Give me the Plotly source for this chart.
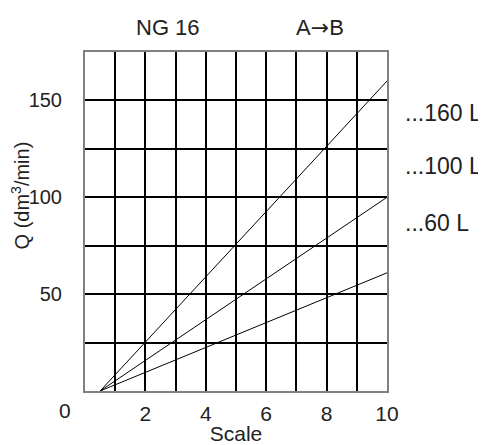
import plotly.graph_objects as go

# Data
scale_start = [0.5, 0.5, 0.5]
scale_end = [10, 10, 10]
q_end = [160, 100, 61]
series_labels = ["...160 L", "...100 L", "...60 L"]
x_ticks = [2, 4, 6, 8, 10]
y_ticks = [50, 100, 150]

FONT = "Liberation Sans, Arial, sans-serif"
TXT = "#222222"

fig = go.Figure()
for xs, xe, qe, name in zip(scale_start, scale_end, q_end, series_labels):
    fig.add_trace(go.Scatter(x=[xs, xe], y=[0, qe], mode="lines",
                             line=dict(color="black", width=1), name=name,
                             showlegend=False, hoverinfo="skip"))

OFF = 8  # page body margin
W, H = 486 - OFF, 445 - OFF
L, R, T, B = 85 - OFF, 387 - OFF, 51.5 - OFF, 391 - OFF
fig.update_layout(
    width=W, height=H,
    margin=dict(l=L, r=W - R, t=T, b=H - B, pad=0, autoexpand=False),
    plot_bgcolor="white", paper_bgcolor="white",
    font=dict(family=FONT, size=21, color=TXT),
    xaxis=dict(range=[0, 10], tickvals=x_ticks, ticks="", showgrid=True,
               gridcolor="black", gridwidth=1.8, automargin=False,
               minor=dict(dtick=1, tick0=0, showgrid=True, gridcolor="black", gridwidth=1.8),
               showline=True, linecolor="#808080", linewidth=2, mirror=True,
               zeroline=False, ticklabelstandoff=3,
               title=dict(text="Scale", standoff=0, font=dict(size=21))),
    yaxis=dict(range=[0, 175], tickvals=y_ticks, ticks="", showgrid=True,
               gridcolor="black", gridwidth=1.8, automargin=False,
               minor=dict(dtick=25, tick0=0, showgrid=True, gridcolor="black", gridwidth=1.8),
               showline=True, linecolor="#808080", linewidth=2, mirror=True,
               zeroline=False, ticklabelstandoff=17, tickfont=dict(size=20)),
)

# y-axis title
fig.add_annotation(x=-0.215, y=0.577, xref="paper", yref="paper",
                   text="Q (dm<sup>3</sup>/min)", textangle=-90, showarrow=False,
                   xanchor="center", yanchor="middle", font=dict(size=20, color=TXT))

# origin label
fig.add_annotation(x=0, y=0, xref="x", yref="y", text="0", showarrow=False,
                   xshift=-20, yshift=-19, font=dict(size=21, color=TXT))

# series labels on the right
label_y = [0.82, 0.665, 0.497]
for name, py in zip(series_labels, label_y):
    fig.add_annotation(x=1.053, y=py, xref="paper", yref="paper", text=name,
                       showarrow=False, xanchor="left", yanchor="middle",
                       font=dict(size=23, color=TXT))

# header texts
fig.add_annotation(x=0.275, y=1.072, xref="paper", yref="paper", text="NG 16",
                   showarrow=False, xanchor="center", yanchor="middle",
                   font=dict(size=22, color=TXT))
fig.add_annotation(x=0.778, y=1.072, xref="paper", yref="paper",
                   text="A<span style=\"font-family:'DejaVu Sans'\">→</span>B",
                   showarrow=False, xanchor="center", yanchor="middle",
                   font=dict(size=22, color=TXT))

fig.write_html("out.html")
